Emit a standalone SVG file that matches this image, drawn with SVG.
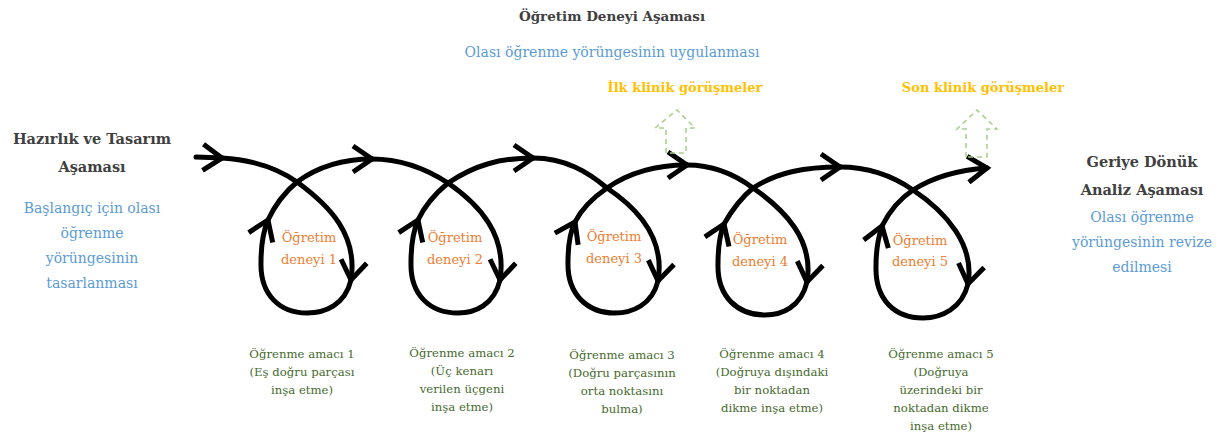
<svg xmlns="http://www.w3.org/2000/svg" width="1222" height="439" viewBox="0 0 1222 439">
<style>
text{text-anchor:middle;font-family:"DejaVu Serif",serif}
.h{font-weight:bold;fill:#404040;font-size:14.5px}
.t{font-weight:bold;fill:#404040;font-size:13.5px}
.b{fill:#5b9bd5;font-size:14px}
.y{fill:#ffc000;font-weight:bold;font-size:13px}
.o{fill:#ed7d31;font-size:13px}
.g{fill:#466a2e;font-size:11.7px}
.c{fill:none;stroke:#000;stroke-width:5;stroke-linecap:round}
.d{fill:none;stroke:#a9d18e;stroke-width:1.6;stroke-dasharray:5 4}
</style>
<defs>
<marker id="ah" markerUnits="userSpaceOnUse" markerWidth="48" markerHeight="48" viewBox="-30 -24 48 48" refX="0" refY="0" orient="auto">
<path d="M-19,-13 L0,0 L-19,13" fill="none" stroke="#000" stroke-width="5" stroke-linejoin="miter"/>
</marker>
</defs>
<rect width="1222" height="439" fill="#fff"/>
<g id="connectors">
<path class="c" marker-end="url(#ah)" d="M196,157 L222,158"/>
<path class="c" marker-end="url(#ah)" d="M222,158 C255,160 280,170 297,182 C330,206 358,235 351,280"/>
<path class="c" marker-end="url(#ah)" d="M351,280 C345,305 325,313 307,313 C280,313 260,295 261,262 C261,245 263,232 268,220"/>
<path class="c" marker-end="url(#ah)" d="M268,220 C275,205 285,192 297,182 C320,165 345,159 372,159"/>
<path class="c" marker-end="url(#ah)" d="M372,159 C400,159 425,168 448,183 C480,205 507,235 500,280"/>
<path class="c" marker-end="url(#ah)" d="M500,280 C494,305 475,313 458,313 C430,313 410,295 411,262 C411,245 413,232 418,220"/>
<path class="c" marker-end="url(#ah)" d="M418,220 C425,205 436,193 448,183 C475,165 500,158 533,158"/>
<path class="c" marker-end="url(#ah)" d="M533,158 C565,158 588,172 607,188 C640,210 665,240 658,281"/>
<path class="c" marker-end="url(#ah)" d="M658,281 C652,305 632,313 615,313 C588,313 567,295 568,262 C568,245 570,232 575,222"/>
<path class="c" marker-end="url(#ah)" d="M575,222 C582,208 594,197 607,188 C630,172 655,165 687,165"/>
<path class="c" marker-end="url(#ah)" d="M687,165 C715,165 737,176 753,188 C785,210 814,240 807,282"/>
<path class="c" marker-end="url(#ah)" d="M807,282 C801,307 782,315 765,315 C738,315 717,297 718,264 C718,247 720,234 724,224"/>
<path class="c" marker-end="url(#ah)" d="M724,224 C732,210 742,197 753,188 C778,172 805,167 840,167"/>
<path class="c" marker-end="url(#ah)" d="M840,167 C868,167 893,176 913,190 C946,212 975,245 968,284"/>
<path class="c" marker-end="url(#ah)" d="M968,284 C962,308 942,318 923,318 C895,318 875,300 876,266 C876,250 878,238 882,226"/>
<path class="c" marker-end="url(#ah)" d="M882,226 C890,210 901,198 913,190 C935,176 958,170 987,168"/>
</g>
<g id="interview-arrow-1"><path class="d" d="M666,153 L666,128 L655,128 L677,110 L695,128 L686,128 L686,153 Z"/></g>
<g id="interview-arrow-2"><path class="d" d="M966,157 L966,129 L957,129 L977,110 L997,129 L987,129 L987,157 Z"/></g>
<g id="phase-teaching">
<text class="t" x="612" y="21">Öğretim Deneyi Aşaması</text>
<text class="b" x="612" y="57">Olası öğrenme yörüngesinin uygulanması</text>
</g>
<g id="first-interviews"><text class="y" x="685" y="92">İlk klinik görüşmeler</text></g>
<g id="last-interviews"><text class="y" x="983" y="92">Son klinik görüşmeler</text></g>
<g id="phase-prep">
<text class="h" x="92" y="144">Hazırlık ve Tasarım</text>
<text class="h" x="92" y="172">Aşaması</text>
<text class="b" x="92" y="213">Başlangıç için olası</text>
<text class="b" x="92" y="238">öğrenme</text>
<text class="b" x="92" y="263">yörüngesinin</text>
<text class="b" x="92" y="288">tasarlanması</text>
</g>
<g id="phase-retro">
<text class="h" x="1142" y="167">Geriye Dönük</text>
<text class="h" x="1142" y="195">Analiz Aşaması</text>
<text class="b" x="1142" y="222">Olası öğrenme</text>
<text class="b" x="1142" y="247">yörüngesinin revize</text>
<text class="b" x="1142" y="272">edilmesi</text>
</g>
<g id="experiment-1"><text class="o" x="309" y="242">Öğretim</text><text class="o" x="309" y="264">deneyi 1</text></g>
<g id="experiment-2"><text class="o" x="455" y="242">Öğretim</text><text class="o" x="455" y="264">deneyi 2</text></g>
<g id="experiment-3"><text class="o" x="614" y="241">Öğretim</text><text class="o" x="614" y="263">deneyi 3</text></g>
<g id="experiment-4"><text class="o" x="760" y="244">Öğretim</text><text class="o" x="760" y="266">deneyi 4</text></g>
<g id="experiment-5"><text class="o" x="920" y="245">Öğretim</text><text class="o" x="920" y="266">deneyi 5</text></g>
<g id="goal-1"><text class="g" x="302" y="358">Öğrenme amacı 1</text><text class="g" x="302" y="376">(Eş doğru parçası</text><text class="g" x="302" y="394">inşa etme)</text></g>
<g id="goal-2"><text class="g" x="462" y="357">Öğrenme amacı 2</text><text class="g" x="462" y="375">(Üç kenarı</text><text class="g" x="462" y="393">verilen üçgeni</text><text class="g" x="462" y="411">inşa etme)</text></g>
<g id="goal-3"><text class="g" x="622" y="359">Öğrenme amacı 3</text><text class="g" x="622" y="377">(Doğru parçasının</text><text class="g" x="622" y="395">orta noktasını</text><text class="g" x="622" y="413">bulma)</text></g>
<g id="goal-4"><text class="g" x="772" y="358">Öğrenme amacı 4</text><text class="g" x="772" y="376">(Doğruya dışındaki</text><text class="g" x="772" y="394">bir noktadan</text><text class="g" x="772" y="412">dikme inşa etme)</text></g>
<g id="goal-5"><text class="g" x="941" y="358">Öğrenme amacı 5</text><text class="g" x="941" y="376">(Doğruya</text><text class="g" x="941" y="394">üzerindeki bir</text><text class="g" x="941" y="412">noktadan dikme</text><text class="g" x="941" y="430">inşa etme)</text></g>
</svg>
